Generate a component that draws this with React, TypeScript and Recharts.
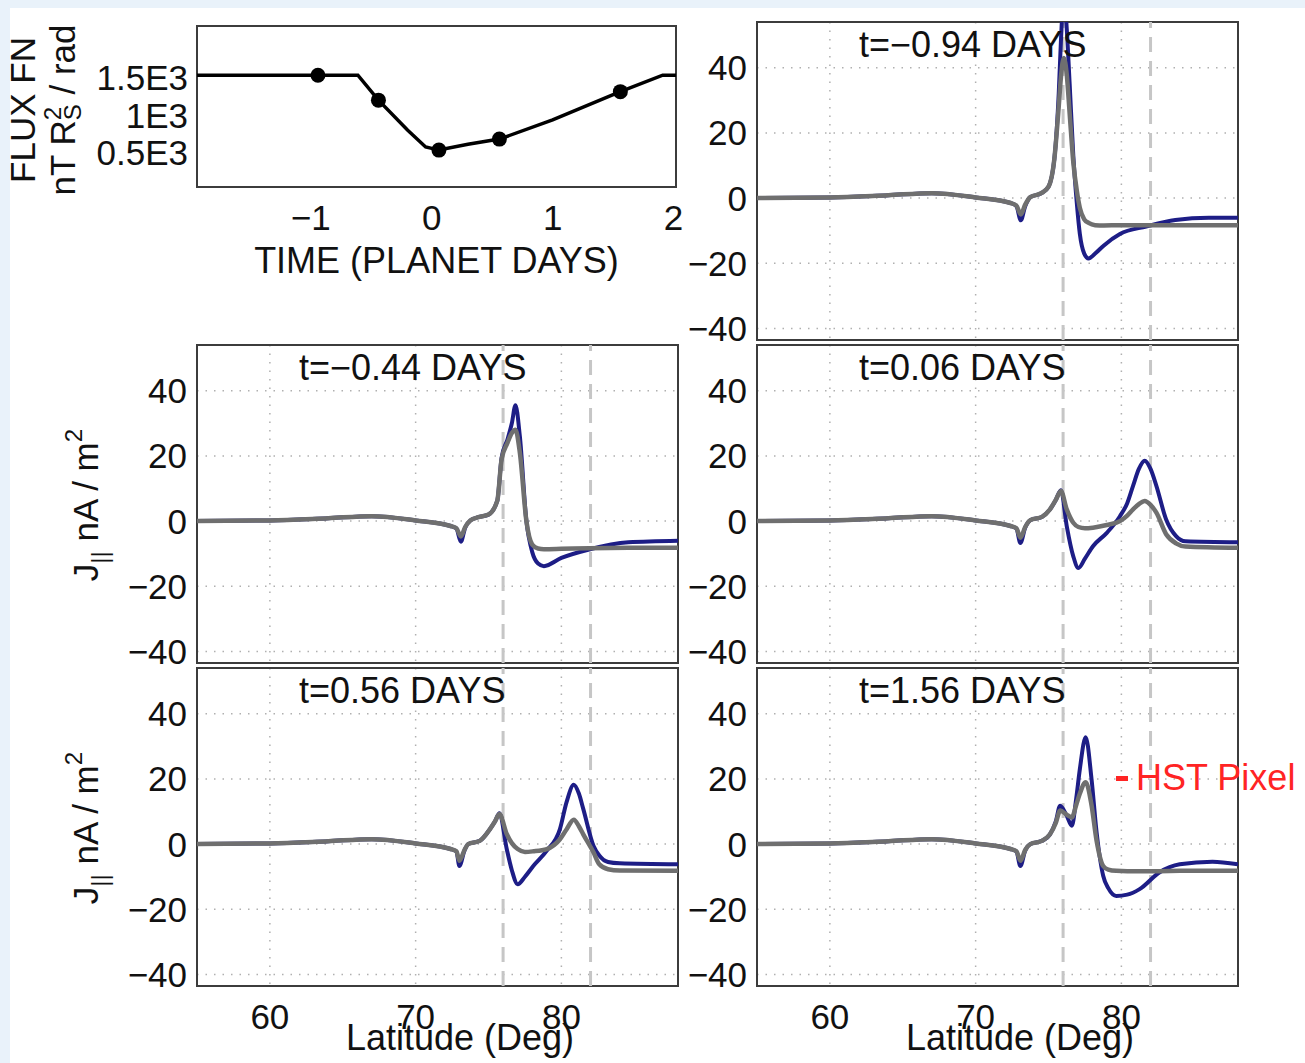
import React from 'react';
import { LineChart, Line, XAxis, YAxis, CartesianGrid, ReferenceLine, ReferenceArea } from 'recharts';

// flux function vs time (top-left panel)
const fluxTime = [-1.94, -0.94, -0.61, -0.44, -0.2, -0.05, 0.06, 0.3, 0.56, 1.0, 1.56, 1.91, 2.02];
const fluxValue = [1533, 1533, 1533, 1200, 800, 575, 533, 610, 680, 935, 1313, 1533, 1533];
const snapTime = [-0.94, -0.44, 0.06, 0.56, 1.56];
const snapFlux = [1533, 1200, 533, 680, 1313];
const timeTicks = [-1, 0, 1, 2];
const fluxTicks = [500, 1000, 1500];
const fluxTickLabels = ['0.5E3', '1E3', '1.5E3'];

// current density panels
const latTicks = [60, 70, 80];
const jTicks = [-40, -20, 0, 20, 40];
const pixelLats = [76, 82];

const latA = [55, 60, 64, 67, 70, 72.4, 72.8, 73.1, 73.4, 73.75, 74.5, 75.0, 75.4, 75.7, 75.85, 76.05, 76.25, 76.45, 76.7, 76.95, 77.15, 77.45, 77.75, 78.2, 78.8, 79.9, 81.7, 83.7, 86, 88];
const blueA = [0, 0.2, 0.9, 1.5, 0.2, -1.5, -2.5, -6.8, -2.5, 0.3, 1.5, 3.5, 12, 32, 48, 62, 52, 35, 13, -2, -11, -17, -18.5, -17, -14.5, -11, -8.7, -6.7, -6, -6];
const grayA = [0, 0.2, 0.9, 1.5, 0.2, -1.5, -2.3, -5, -2, 0.3, 1.5, 3.5, 12, 28, 37, 43, 38, 26, 11, 2, -3, -6.5, -7.6, -8.3, -8.4, -8.3, -8.3, -8.3, -8.3, -8.3];

const latB = [55, 60, 64, 67, 70, 72.4, 72.8, 73.1, 73.4, 73.75, 74.3, 75.0, 75.6, 75.9, 76.3, 76.6, 76.85, 77.15, 77.6, 78.0, 78.4, 78.8, 80.0, 81.9, 84.6, 88];
const blueB = [0, 0.2, 0.9, 1.5, 0.2, -1.5, -2.3, -6.3, -2, 0.2, 1.2, 2, 6.2, 19.5, 25, 30, 35.5, 26, 0, -9.5, -13, -13.8, -11.3, -8.7, -6.5, -6];
const grayB = [0, 0.2, 0.9, 1.5, 0.2, -1.5, -2.2, -4.7, -1.8, 0.2, 1.2, 2, 6.2, 19, 24, 27, 28, 21, 0, -7.2, -8.4, -8.6, -8.5, -8.3, -8.2, -8.2];

const latC = [55, 60, 64, 67, 70, 72.4, 72.8, 73.07, 73.4, 73.75, 74.55, 75.1, 75.5, 75.85, 76.25, 76.7, 77.05, 77.5, 78.05, 79.0, 79.9, 80.4, 80.8, 81.2, 81.6, 82.0, 82.4, 83.07, 83.75, 84.4, 88];
const blueC = [0, 0.2, 0.9, 1.5, 0.2, -1.5, -2.3, -6.7, -2, 0.3, 1.3, 3.6, 6.5, 9.5, -1.5, -10.8, -14.4, -11.5, -7.7, -3.6, 1.5, 5.5, 10.8, 16, 18.5, 16, 10.8, 0.5, -4.6, -6.2, -6.5];
const grayC = [0, 0.2, 0.9, 1.5, 0.2, -1.5, -2.2, -5.1, -1.8, 0.3, 1.3, 3.6, 6.5, 9.2, 3.6, -0.5, -1.8, -2.2, -2, -1.2, 0, 1.7, 3.6, 5.2, 6.2, 5, 2.6, -4, -6.8, -7.8, -8.2];

const latD = [55, 60, 64, 67, 70, 72.4, 72.8, 73.0, 73.35, 73.6, 74.4, 75.1, 75.45, 75.75, 76.25, 76.6, 77.0, 77.5, 78.07, 79.0, 79.9, 80.35, 80.85, 81.2, 81.5, 82.2, 82.6, 83.2, 84, 88];
const blueD = [0, 0.2, 0.9, 1.5, 0.2, -1.5, -2.3, -6.7, -2, 0, 1, 4.6, 7, 9.5, -1.5, -8, -12.3, -10, -6.7, -2, 4.6, 12.8, 18.2, 15.5, 10.8, -0.5, -3.5, -5.5, -5.9, -6.2];
const grayD = [0, 0.2, 0.9, 1.5, 0.2, -1.5, -2.2, -5.1, -1.8, 0, 1, 4.6, 7, 9.2, 3.1, 0.3, -1.5, -2.4, -2.2, -1.5, 1.5, 4.5, 7.5, 5.5, 3, -2.5, -6.2, -7.7, -8.1, -8.2];

const latE = [55, 60, 64, 67, 70, 72.4, 72.8, 73.07, 73.4, 73.75, 74.55, 75.1, 75.5, 75.8, 76.25, 76.6, 76.9, 77.15, 77.55, 77.95, 78.3, 78.75, 79.1, 79.65, 80.4, 81.25, 82.6, 84, 86.25, 88];
const blueE = [0, 0.2, 0.9, 1.5, 0.2, -1.5, -2.3, -6.7, -2, 0, 1, 3, 7, 11.8, 8.7, 5.6, 14, 23, 32.8, 20, 3.6, -9.7, -13.5, -15.9, -15.5, -13.8, -8.7, -6.2, -5.4, -6.2];
const grayE = [0, 0.2, 0.9, 1.5, 0.2, -1.5, -2.2, -5.1, -1.8, 0, 1, 3, 6.5, 10.3, 9, 8.2, 12, 15.5, 19, 12, 1, -6.7, -7.8, -8.2, -8.3, -8.3, -8.3, -8.2, -8.2, -8.2];

const FONT = '"Liberation Sans", Arial, Helvetica, sans-serif';
const BLUE = '#1d1d86';
const GRAY = '#6f6f6f';
const FRAME = '#3c3c3c';
const FS = 35;

const PLOT_W = 481;
const PLOT_H = 318;
const Y_AXIS_W = 90;

const minus = (v: number | string) => String(v).replace('-', '\u2212');
const tickStyle = { fill: '#111', fontSize: FS, fontFamily: FONT };

function CurrentPanel({ x, y, lat, blue, gray, title, bottom }: any) {
  const data = lat.map((l: number, i: number) => ({ lat: l, blue: blue[i], gray: gray[i] }));
  const xAxisH = bottom ? 70 : 0;
  const padBottom = bottom ? 2 : 24;
  return (
    <div style={{ position: 'absolute', left: x - Y_AXIS_W, top: y - 2 }}>
      <LineChart
        width={Y_AXIS_W + PLOT_W + 3}
        height={PLOT_H + 2 + padBottom + xAxisH}
        data={data}
        margin={{ top: 2, right: 3, bottom: padBottom, left: 0 }}
      >
        <CartesianGrid stroke="#b0b0b0" strokeDasharray="1.5 7" strokeWidth={1.5} />
        <XAxis
          dataKey="lat"
          type="number"
          domain={[55, 88]}
          ticks={latTicks}
          interval={0}
          allowDataOverflow
          hide={!bottom}
          height={xAxisH}
          axisLine={false}
          tickLine={false}
          tickSize={0}
          tickMargin={18}
          tick={tickStyle}
        />
        <YAxis
          type="number"
          domain={[-43.5, 54]}
          ticks={jTicks}
          interval={0}
          allowDataOverflow
          width={Y_AXIS_W}
          axisLine={false}
          tickLine={false}
          tickSize={0}
          tickMargin={10}
          tick={tickStyle}
          tickFormatter={minus}
        />
        {pixelLats.map((p) => (
          <ReferenceLine key={p} x={p} stroke="#c6c6c6" strokeWidth={3} strokeDasharray="15 9" />
        ))}
        <Line dataKey="blue" type="monotone" stroke={BLUE} strokeWidth={4} dot={false} isAnimationActive={false} />
        <Line dataKey="gray" type="monotone" stroke={GRAY} strokeWidth={4.5} dot={false} isAnimationActive={false} />
        <ReferenceArea x1={55} x2={88} y1={-43.5} y2={54} fill="none" stroke={FRAME} strokeWidth={2} ifOverflow="visible" />
      </LineChart>
      <div style={{ position: 'absolute', left: Y_AXIS_W + 102, top: 6.5, fontSize: FS + 1, lineHeight: `${FS + 1}px`, fontFamily: FONT, color: '#111', whiteSpace: 'nowrap' }}>
        {title}
      </div>
      {bottom && (
        <div style={{ position: 'absolute', left: Y_AXIS_W + 263 - 150, width: 300, textAlign: 'center', top: PLOT_H + 36, fontSize: FS + 1, lineHeight: `${FS + 1}px`, fontFamily: FONT, color: '#111' }}>
          Latitude (Deg)
        </div>
      )}
    </div>
  );
}

function JLabel({ cx, cy }: { cx: number; cy: number }) {
  return (
    <div style={{ position: 'absolute', left: cx - 120, top: cy - 22, width: 240, height: 44, textAlign: 'center', transform: 'rotate(-90deg)', fontFamily: FONT, fontSize: FS, lineHeight: '44px', color: '#111', whiteSpace: 'nowrap' }}>
      J<span style={{ fontSize: 24, position: 'relative', top: 10 }}>||</span> nA / m<span style={{ fontSize: 24, position: 'relative', top: -16 }}>2</span>
    </div>
  );
}

export default function App() {
  const fluxData = fluxTime.map((t, i) => ({ t, flux: fluxValue[i] }));
  const snapData = snapTime.map((t, i) => ({ t, flux: snapFlux[i] }));
  const FX = 197;
  const FY = 26;
  const FW = 479;
  const FH = 161;
  return (
    <div style={{ position: 'absolute', left: 0, top: 0, width: 1305, height: 1063, background: '#e9f2fa', overflow: 'hidden', fontFamily: FONT }}>
      <div style={{ position: 'absolute', left: 10, top: 8, width: 1295, height: 1055, background: '#ffffff' }} />

      {/* flux function panel */}
      <div style={{ position: 'absolute', left: FX - Y_AXIS_W - 20, top: FY - 2 }}>
        <LineChart width={Y_AXIS_W + 20 + FW + 24} height={FH + 4 + 50} margin={{ top: 2, right: 24, bottom: 2, left: 0 }}>
          <XAxis
            dataKey="t"
            type="number"
            domain={[-1.94, 2.02]}
            ticks={timeTicks}
            interval={0}
            allowDataOverflow
            height={50}
            axisLine={false}
            tickLine={false}
            tickSize={0}
            tickMargin={18}
            tick={tickStyle}
            tickFormatter={minus}
          />
          <YAxis
            dataKey="flux"
            type="number"
            domain={[40, 2190]}
            ticks={fluxTicks}
            interval={0}
            allowDataOverflow
            width={Y_AXIS_W + 20}
            axisLine={false}
            tickLine={false}
            tickSize={0}
            tickMargin={9}
            tick={tickStyle}
            tickFormatter={(v: number) => fluxTickLabels[fluxTicks.indexOf(v)]}
          />
          <Line data={fluxData} dataKey="flux" type="linear" stroke="#000" strokeWidth={3.5} dot={false} isAnimationActive={false} />
          <Line data={snapData} dataKey="flux" stroke="none" dot={{ r: 7.5, fill: '#000', stroke: 'none' }} isAnimationActive={false} />
          <ReferenceArea x1={-1.94} x2={2.02} y1={40} y2={2190} fill="none" stroke={FRAME} strokeWidth={2} ifOverflow="visible" />
        </LineChart>
      </div>
      <div style={{ position: 'absolute', left: FX + FW / 2 - 250, width: 500, top: 243, textAlign: 'center', fontSize: FS + 1, lineHeight: '36px', color: '#111' }}>
        TIME (PLANET DAYS)
      </div>
      <div style={{ position: 'absolute', left: 48 - 120, top: 110 - 45, width: 240, height: 90, textAlign: 'center', transform: 'rotate(-90deg)', fontSize: FS, lineHeight: '40px', color: '#111', whiteSpace: 'nowrap' }}>
        <div>FLUX FN</div>
        <div>
          nT R
          <span style={{ display: 'inline-block', verticalAlign: 'middle', lineHeight: '20px', fontSize: 24, textAlign: 'left', marginTop: -6 }}>
            <span style={{ display: 'block' }}>2</span>
            <span style={{ display: 'block' }}>S</span>
          </span>
          {' '}/ rad
        </div>
      </div>

      <CurrentPanel x={757} y={22} lat={latA} blue={blueA} gray={grayA} title={'t=\u22120.94 DAYS'} />
      <CurrentPanel x={197} y={345} lat={latB} blue={blueB} gray={grayB} title={'t=\u22120.44 DAYS'} />
      <CurrentPanel x={757} y={345} lat={latC} blue={blueC} gray={grayC} title="t=0.06 DAYS" />
      <CurrentPanel x={197} y={668} lat={latD} blue={blueD} gray={grayD} title="t=0.56 DAYS" bottom />
      <CurrentPanel x={757} y={668} lat={latE} blue={blueE} gray={grayE} title="t=1.56 DAYS" bottom />

      <JLabel cx={86} cy={505} />
      <JLabel cx={86} cy={828} />

      <div style={{ position: 'absolute', left: 1116, top: 760, fontSize: FS + 1, lineHeight: '36px', color: '#ff2424', whiteSpace: 'nowrap', display: 'flex', alignItems: 'center' }}>
        <span style={{ display: 'inline-block', width: 12, height: 5, background: '#ff2424', marginRight: 8 }} />
        HST Pixel
      </div>
    </div>
  );
}
